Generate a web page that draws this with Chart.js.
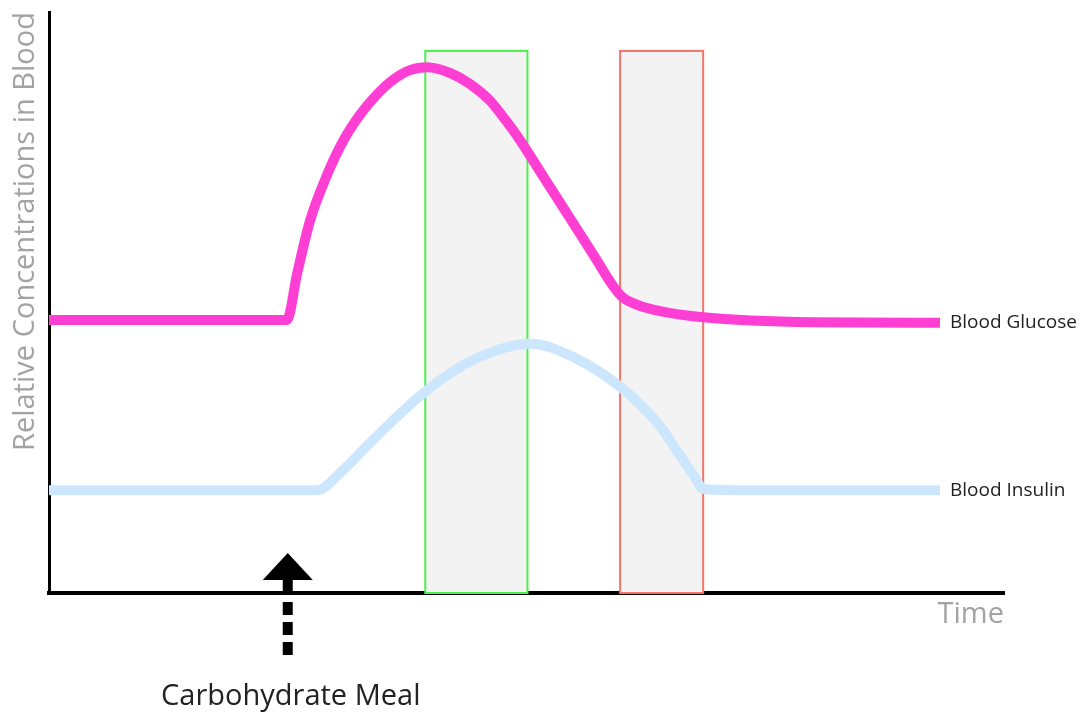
<!DOCTYPE html>
<html>
<head>
<meta charset="utf-8">
<script src="https://cdn.jsdelivr.net/npm/chart.js@4.4.1/dist/chart.umd.min.js"></script>
<style>
  html, body { margin: 0; padding: 0; background: #fff; }
  #wrap { width: 1085px; height: 715px; }
</style>
</head>
<body>
<div id="wrap"><canvas id="glucoseChart"></canvas></div>
<script>
// waktu (0-100) dan konsentrasi relatif (0-100)
const glucoseTime  = [0, 24.9, 26.0, 27.3, 29.1, 30.8, 32.6, 34.4, 36.0, 37.8, 39.6, 42.0, 44.1, 46.2, 47.8, 49.3, 51.9, 54.6, 57.2, 59.0, 60.0, 61.6, 64.0, 68.2, 80.0, 93.3];
const glucoseLevel = [47.0, 47.0, 55.1, 63.9, 71.9, 77.8, 82.4, 85.9, 88.3, 90.0, 90.5, 89.5, 87.6, 84.7, 81.4, 78.0, 71.3, 64.4, 57.7, 53.0, 51.0, 49.6, 48.5, 47.5, 46.6, 46.5];

const insulinTime  = [0, 28.1, 30.5, 33.9, 39.2, 44.4, 50.4, 54.9, 59.8, 63.7, 66.1, 67.6, 68.5, 72.4, 93.3];
const insulinLevel = [17.7, 17.7, 20.7, 26.3, 34.4, 40.1, 42.9, 40.6, 35.5, 29.3, 23.6, 20.0, 17.9, 17.7, 17.7];

const seriesNames = ['Blood Glucose', 'Blood Insulin'];

// jendela waktu yang diarsir: [mulai, selesai, tinggi]
const windowGreen = [39.4, 50.1, 93.3];
const windowRed   = [59.8, 68.5, 93.3];

const mealTime = 25.0;
const mealLabel = 'Carbohydrate Meal';
const xTitle = 'Time';
const yTitle = 'Relative Concentrations in Blood';

function toPoints(xs, ys) {
  return xs.map((x, i) => ({ x: x, y: ys[i] }));
}

const windowsPlugin = {
  id: 'windows',
  beforeDatasetsDraw(chart) {
    const { ctx, scales: { x, y } } = chart;
    const wins = [[windowGreen, '#4def4d'], [windowRed, '#f2756b']];
    ctx.save();
    wins.forEach(([w, color]) => {
      const left = x.getPixelForValue(w[0]);
      const right = x.getPixelForValue(w[1]);
      const top = y.getPixelForValue(w[2]);
      const bottom = y.getPixelForValue(0);
      ctx.fillStyle = '#f3f3f3';
      ctx.fillRect(left, top, right - left, bottom - top);
      ctx.strokeStyle = color;
      ctx.lineWidth = 2;
      ctx.strokeRect(left, top, right - left, bottom - top);
    });
    ctx.restore();
  }
};

const labelsPlugin = {
  id: 'endLabels',
  afterDraw(chart) {
    const { ctx, scales: { x, y } } = chart;
    ctx.save();
    ctx.font = '19px "Open Sans"';
    ctx.fillStyle = '#222';
    ctx.textBaseline = 'middle';
    ctx.textAlign = 'left';
    ctx.fillText(seriesNames[0], x.getPixelForValue(glucoseTime[glucoseTime.length - 1]) + 10,
      y.getPixelForValue(glucoseLevel[glucoseLevel.length - 1]));
    ctx.fillText(seriesNames[1], x.getPixelForValue(insulinTime[insulinTime.length - 1]) + 10,
      y.getPixelForValue(insulinLevel[insulinLevel.length - 1]));

    // panah makan
    const ax = x.getPixelForValue(mealTime);
    const axisY = y.getPixelForValue(0);
    const tip = axisY - 40;
    const base = axisY - 13;
    ctx.fillStyle = '#000';
    ctx.beginPath();
    ctx.moveTo(ax, tip);
    ctx.lineTo(ax + 25, base);
    ctx.lineTo(ax - 25, base);
    ctx.closePath();
    ctx.fill();
    ctx.fillRect(ax - 5, base - 1, 10, axisY - base + 1);
    ctx.strokeStyle = '#000';
    ctx.lineWidth = 10;
    ctx.setLineDash([13, 7]);
    ctx.beginPath();
    ctx.moveTo(ax, axisY + 9);
    ctx.lineTo(ax, axisY + 65);
    ctx.stroke();
    ctx.setLineDash([]);

    ctx.font = '29px "Open Sans"';
    ctx.fillStyle = '#222';
    ctx.textAlign = 'center';
    ctx.fillText(mealLabel, ax + 3, axisY + 104);
    ctx.restore();
  }
};

const ctx = document.getElementById('glucoseChart').getContext('2d');
const chart = new Chart(ctx, {
  type: 'scatter',
  data: {
    datasets: [{
      label: seriesNames[0],
      data: toPoints(glucoseTime, glucoseLevel),
      showLine: true,
      borderColor: '#ff3fd4',
      borderWidth: 10,
      pointRadius: 0,
      cubicInterpolationMode: 'monotone',
      borderCapStyle: 'butt',
      borderJoinStyle: 'round'
    }, {
      label: seriesNames[1],
      data: toPoints(insulinTime, insulinLevel),
      showLine: true,
      borderColor: '#cce7fd',
      borderWidth: 10,
      pointRadius: 0,
      cubicInterpolationMode: 'monotone',
      borderCapStyle: 'butt',
      borderJoinStyle: 'round'
    }]
  },
  options: {
    responsive: true,
    maintainAspectRatio: false,
    animation: false,
    layout: { padding: { top: 12, right: 81, bottom: 82, left: 0 } },
    plugins: {
      legend: { display: false },
      tooltip: { enabled: false }
    },
    scales: {
      x: {
        type: 'linear',
        min: 0,
        max: 100,
        grid: { display: false, drawTicks: false },
        ticks: { display: false },
        border: { color: '#000', width: 4 },
        title: {
          display: true,
          text: xTitle,
          align: 'end',
          color: '#a3a3a3',
          font: { family: '"Open Sans"', size: 29 },
          padding: { top: 0, bottom: 1 }
        },
        afterFit(scale) { scale.height = 40; }
      },
      y: {
        min: 0,
        max: 100,
        grid: { display: false, drawTicks: false },
        ticks: { display: false },
        border: { color: '#000', width: 3 },
        title: {
          display: true,
          text: yTitle,
          align: 'end',
          color: '#a3a3a3',
          font: { family: '"Open Sans"', size: 29 },
          padding: { top: 8, bottom: 0 }
        },
        afterFit(scale) { scale.width = 49; }
      }
    }
  },
  plugins: [windowsPlugin, labelsPlugin]
});
</script>
</body>
</html>
